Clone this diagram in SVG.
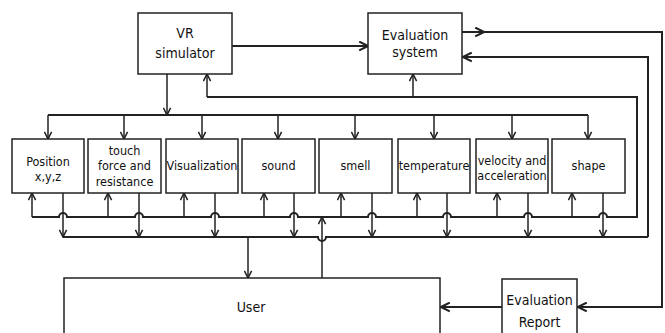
<svg xmlns="http://www.w3.org/2000/svg" width="665" height="333" viewBox="0 0 665 333">
<style>
.box{fill:#fff;stroke:#222;stroke-width:1.5}
.t{font-family:"DejaVu Sans Condensed","Liberation Sans",sans-serif;font-size:12.5px;fill:#111;text-anchor:middle}
.big{font-size:14px}
.ln{fill:none;stroke:#222;stroke-width:1.5}
.th{fill:none;stroke:#222;stroke-width:2}
</style>
<defs>
<marker id="a" viewBox="0 0 10 10" refX="9" refY="5" markerWidth="9" markerHeight="9" markerUnits="userSpaceOnUse" orient="auto">
<path d="M1,1 L9,5 L1,9" fill="none" stroke="#222" stroke-width="1.7"/>
</marker>
<marker id="b" viewBox="0 0 10 10" refX="9" refY="5" markerWidth="11" markerHeight="11" markerUnits="userSpaceOnUse" orient="auto">
<path d="M1,1 L9,5 L1,9" fill="none" stroke="#222" stroke-width="1.9"/>
</marker>
</defs>
<rect width="665" height="333" fill="#fff"/>
<g id="connectors">
<path class="ln" d="M167,74 V115" marker-end="url(#a)"/>
<path class="th" d="M48,115 H588"/>
<path class="ln" d="M48,115 V139" marker-end="url(#a)"/>
<path class="ln" d="M124,115 V139" marker-end="url(#a)"/>
<path class="ln" d="M202,115 V139" marker-end="url(#a)"/>
<path class="ln" d="M278,115 V139" marker-end="url(#a)"/>
<path class="ln" d="M355,115 V139" marker-end="url(#a)"/>
<path class="ln" d="M434,115 V139" marker-end="url(#a)"/>
<path class="ln" d="M512,115 V139" marker-end="url(#a)"/>
<path class="ln" d="M588,115 V139" marker-end="url(#a)"/>
<path class="th" d="M232,46 H368" marker-end="url(#b)"/>
<path class="th" d="M462,32 H484" marker-end="url(#b)"/>
<path class="th" d="M484,32 H662 V307 H578" marker-end="url(#b)"/>
<path class="th" d="M648,237 V57 H463" marker-end="url(#b)"/>
<path class="th" d="M502,307 H441" marker-end="url(#b)"/>
<path class="th" d="M32,217 H59 a4,4 0 0 1 8,0 H135 a4,4 0 0 1 8,0 H211 a4,4 0 0 1 8,0 H290 a4,4 0 0 1 8,0 H368 a4,4 0 0 1 8,0 H443 a4,4 0 0 1 8,0 H524 a4,4 0 0 1 8,0 H599 a4,4 0 0 1 8,0 H637 V97 H207"/>
<path class="ln" d="M207,97 V74" marker-end="url(#a)"/>
<path class="ln" d="M413,97 V74" marker-end="url(#a)"/>
<path class="th" d="M63,237 H318 a4,4 0 0 0 8,0 H648"/>
<path class="ln" d="M32,217 V193" marker-end="url(#a)"/>
<path class="ln" d="M108,217 V193" marker-end="url(#a)"/>
<path class="ln" d="M184,217 V193" marker-end="url(#a)"/>
<path class="ln" d="M264,217 V193" marker-end="url(#a)"/>
<path class="ln" d="M341,217 V193" marker-end="url(#a)"/>
<path class="ln" d="M417,217 V193" marker-end="url(#a)"/>
<path class="ln" d="M497,217 V193" marker-end="url(#a)"/>
<path class="ln" d="M572,217 V193" marker-end="url(#a)"/>
<path class="ln" d="M63,193 V237" marker-end="url(#a)"/>
<path class="ln" d="M139,193 V237" marker-end="url(#a)"/>
<path class="ln" d="M215,193 V237" marker-end="url(#a)"/>
<path class="ln" d="M294,193 V237" marker-end="url(#a)"/>
<path class="ln" d="M372,193 V237" marker-end="url(#a)"/>
<path class="ln" d="M447,193 V237" marker-end="url(#a)"/>
<path class="ln" d="M528,193 V237" marker-end="url(#a)"/>
<path class="ln" d="M603,193 V237" marker-end="url(#a)"/>
<path class="ln" d="M248,237 V278" marker-end="url(#a)"/>
<path class="ln" d="M322,278 V217" marker-end="url(#a)"/>
</g>
<g id="vr"><rect class="box" x="138" y="13" width="94" height="61"/><text class="t big" x="185" y="38">VR</text><text class="t big" x="185" y="58">simulator</text></g>
<g id="eval"><rect class="box" x="368" y="13" width="94" height="61"/><text class="t big" x="415" y="40">Evaluation</text><text class="t big" x="415" y="57">system</text></g>
<g id="position"><rect class="box" x="12" y="139" width="72" height="54"/><text class="t" x="48" y="166">Position</text><text class="t" x="48" y="181">x,y,z</text></g>
<g id="touch"><rect class="box" x="88" y="139" width="73" height="54"/><text class="t" x="124.5" y="155">touch</text><text class="t" x="124.5" y="170">force and</text><text class="t" x="124.5" y="186">resistance</text></g>
<g id="visualization"><rect class="box" x="166" y="139" width="72" height="54"/><text class="t" x="202" y="170">Visualization</text></g>
<g id="sound"><rect class="box" x="242" y="139" width="73" height="54"/><text class="t" x="278.5" y="170">sound</text></g>
<g id="smell"><rect class="box" x="319" y="139" width="73" height="54"/><text class="t" x="355.5" y="170">smell</text></g>
<g id="temperature"><rect class="box" x="398" y="139" width="72" height="54"/><text class="t" x="434" y="170">temperature</text></g>
<g id="velocity"><rect class="box" x="476" y="139" width="72" height="54"/><text class="t" x="512" y="165">velocity and</text><text class="t" x="512" y="180">acceleration</text></g>
<g id="shape"><rect class="box" x="552" y="139" width="73" height="54"/><text class="t" x="588.5" y="170">shape</text></g>
<g id="user"><rect class="box" x="64" y="278" width="376" height="70"/><text class="t big" x="251" y="312">User</text></g>
<g id="report"><rect class="box" x="502" y="279" width="75" height="70"/><text class="t big" x="539.5" y="305">Evaluation</text><text class="t big" x="539.5" y="327">Report</text></g>
</svg>
